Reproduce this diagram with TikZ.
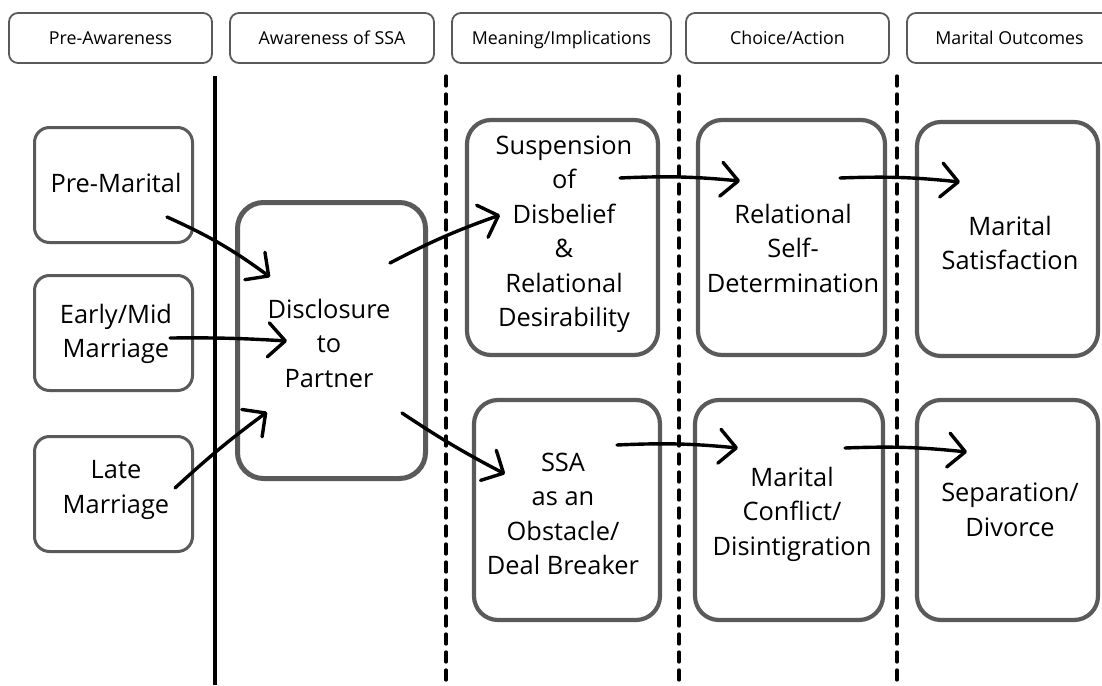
\documentclass[tikz,border=0pt]{standalone}
\usepackage{fontspec}
\setmainfont{Open Sans}
\usetikzlibrary{arrows.meta}
\definecolor{boxgray}{RGB}{90,90,90}
\begin{document}
\begin{tikzpicture}[x=1pt,y=-1pt,
  hbox/.style={draw=boxgray, line width=1.8pt, rounded corners=9pt, minimum width=#1, minimum height=50pt, inner sep=0pt, text height=12.7pt, text depth=0pt, font=\fontsize{17.8}{21}\selectfont},
  sbox/.style={draw=boxgray, line width=3pt, rounded corners=15pt, inner sep=0pt},
  bbox/.style={draw=boxgray, line width=4.2pt, rounded corners=24pt, inner sep=0pt},
  dbox/.style={draw=boxgray, line width=5pt, rounded corners=26pt, inner sep=0pt},
  txt/.style={align=center, inner sep=0pt, font=\fontsize{25.4}{34.5}\selectfont},
  sep/.style={line width=3.2pt},
  dsep/.style={line width=3.3pt, line cap=round, dash pattern=on 10pt off 8pt},
  arr/.style={line width=3.4pt, line cap=round, -{Straight Barb[length=17pt,width=34pt,round]}}
]
\useasboundingbox (0,0) rectangle (1102,685);
% header boxes
\node[hbox=203pt] (h1) at (110.5,38) {Pre-Awareness};
\node[hbox=204pt] (h2) at (332,38) {Awareness of SSA};
\node[hbox=219pt] (h3) at (561.5,38) {Meaning/Implications};
\node[hbox=203pt] (h4) at (787.5,38) {Choice/Action};
\node[hbox=205pt] (h5) at (1009.5,38) {Marital Outcomes};
% separators
\draw[sep] (215,76) -- (215,685);
\draw[dsep] (446,76) -- (446,690);
\draw[dsep] (679,76) -- (679,690);
\draw[dsep] (897,76) -- (897,690);
% left boxes
\node[sbox, minimum width=158pt, minimum height=115pt] (pm) at (113.5,185) {};
\node[txt] (pmt) at (116,183) {Pre-Marital};
\node[sbox, minimum width=158pt, minimum height=115pt] (em) at (113.5,333) {};
\node[txt] (emt) at (116,334) {Early/Mid\\Marriage};
\node[sbox, minimum width=158pt, minimum height=115pt] (lm) at (113.5,494) {};
\node[txt] (lmt) at (116,490) {Late\\Marriage};
% disclosure
\node[dbox, minimum width=188pt, minimum height=276pt] (dis) at (331.5,340.5) {};
\node[txt] (dist) at (329,343) {Disclosure\\to\\Partner};
% meaning boxes
\node[bbox, minimum width=191pt, minimum height=235pt] (sus) at (562.5,237.5) {};
\node[txt] (sust) at (564,234) {Suspension\\of\\Disbelief\\\&\\Relational\\Desirability};
\node[bbox, minimum width=186pt, minimum height=220pt] (ssa) at (567,510) {};
\node[txt] (ssat) at (563,514) {SSA\\as an\\Obstacle/\\Deal Breaker};
% choice boxes
\node[bbox, minimum width=187pt, minimum height=235pt] (rsd) at (791.5,237.5) {};
\node[txt] (rsdt) at (793,248) {Relational\\Self-\\Determination};
\node[bbox, minimum width=188pt, minimum height=220pt] (mc) at (789,510) {};
\node[txt] (mct) at (792,514) {Marital\\Conflict/\\Disintigration};
% outcome boxes
\node[bbox, minimum width=181pt, minimum height=234pt] (ms) at (1007.5,239) {};
\node[txt] (mst) at (1010,243) {Marital\\Satisfaction};
\node[bbox, minimum width=181pt, minimum height=220pt] (sd) at (1007.5,510) {};
\node[txt] (sdt) at (1010,510) {Separation/\\Divorce};
% arrows
\draw[arr] ([shift={(53.5,32)}]pm.center) to[bend left=6] ([shift={(-61.5,-63.5)}]dis.center);
\draw[arr] ([shift={(56.5,5)}]em.center) to[bend left=2] ([shift={(-44.5,0.5)}]dis.center);
\draw[arr] ([shift={(61.5,-6)}]lm.center) to[bend left=3] ([shift={(-64.5,71.5)}]dis.center);
\draw[arr] ([shift={(58.5,-77.5)}]dis.center) to[bend left=4] ([shift={(-62.5,-22.5)}]sus.center);
\draw[arr] ([shift={(70.5,72.5)}]dis.center) to[bend right=3] ([shift={(-62,-36)}]ssa.center);
\draw[arr] ([shift={(57.5,-59.5)}]sus.center) to[bend left=4] ([shift={(-51.5,-56.5)}]rsd.center);
\draw[arr] ([shift={(48.5,-59.5)}]rsd.center) to[bend left=4] ([shift={(-47.5,-57)}]ms.center);
\draw[arr] ([shift={(50,-65)}]ssa.center) to[bend left=4] ([shift={(-51,-62)}]mc.center);
\draw[arr] ([shift={(56,-62)}]mc.center) to[bend left=4] ([shift={(-40.5,-58)}]sd.center);
\end{tikzpicture}
\end{document}
